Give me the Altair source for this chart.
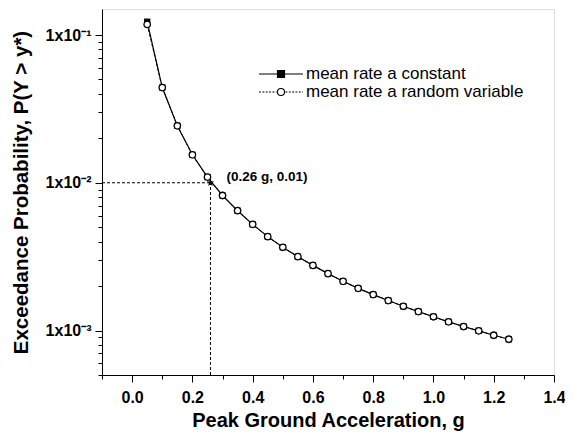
import math
import altair as alt
import pandas as pd

# ---- data ----
pga = [0.05, 0.10, 0.15, 0.20, 0.25, 0.30, 0.35, 0.40, 0.45, 0.50, 0.55, 0.60, 0.65,
       0.70, 0.75, 0.80, 0.85, 0.90, 0.95, 1.00, 1.05, 1.10, 1.15, 1.20, 1.25]
p_random = [0.118, 0.0441, 0.0243, 0.01546, 0.01093, 0.0082, 0.00647, 0.00523, 0.00432,
            0.00366, 0.00316, 0.00276, 0.002427, 0.002153, 0.00193, 0.00175, 0.001595,
            0.001459, 0.001343, 0.001239, 0.001145, 0.001064, 0.000995, 0.000929, 0.000873]
p_constant = [0.123, 0.0441, 0.0243, 0.01546, 0.01093, 0.0082, 0.00647, 0.00523, 0.00432,
              0.00366, 0.00316, 0.00276, 0.002427, 0.002153, 0.00193, 0.00175, 0.001595,
              0.001459, 0.001343, 0.001239, 0.001145, 0.001064, 0.000995, 0.000929, 0.000873]
series_names = ["mean rate a constant", "mean rate a random variable"]

ref_pga = [0.26]
ref_prob = [0.01]
ref_label = ["(0.26 g, 0.01)"]

x_domain = [-0.1, 1.4]
y_domain = [0.0005, 0.15]
x_major = [0.0, 0.2, 0.4, 0.6, 0.8, 1.0, 1.2, 1.4]
x_minor = [-0.1, 0.1, 0.3, 0.5, 0.7, 0.9, 1.1, 1.3]
y_major = [0.001, 0.01, 0.1]
y_minor = [0.0005, 0.0006, 0.0007, 0.0008, 0.0009,
           0.002, 0.003, 0.004, 0.005, 0.006, 0.007, 0.008, 0.009,
           0.02, 0.03, 0.04, 0.05, 0.06, 0.07, 0.08, 0.09]

FONT = "Liberation Sans"

df = pd.DataFrame({
    "pga": pga * 2,
    "prob": p_constant + p_random,
    "series": [series_names[0]] * len(pga) + [series_names[1]] * len(pga),
})
df_const = df[df.series == series_names[0]]
df_rand = df[df.series == series_names[1]]
df_ref = pd.DataFrame({"pga": ref_pga, "prob": ref_prob, "label": ref_label,
                       "xmin": [x_domain[0]], "ymin": [y_domain[0]]})

x_scale = alt.Scale(domain=x_domain, nice=False, zero=False)
y_scale = alt.Scale(type="log", domain=y_domain, nice=False)

common = dict(grid=False, domainColor="black", tickColor="black", labelColor="black",
              titleColor="black", tickWidth=1, domainWidth=1)

x_axis = alt.Axis(
    values=x_major, orient="bottom", title="Peak Ground Acceleration, g", format=".1f",
    tickSize=7, labelFont=FONT, labelFontSize=16, labelFontWeight="bold", labelPadding=7,
    labelFlush=False, labelOverlap=False,
    titleFont=FONT, titleFontSize=20, titleFontWeight="bold", titlePadding=5, **common)
y_axis = alt.Axis(
    values=y_major, orient="left", title="Exceedance Probability, P(Y > y*)",
    labelExpr="'1x10' + (datum.value > 0.05 ? '⁻¹' : (datum.value > 0.005 ? '⁻²' : '⁻³'))",
    tickSize=7, labelFont=FONT, labelFontSize=16, labelFontWeight="bold", labelPadding=4,
    labelFlush=False, labelOverlap=False,
    titleFont=FONT, titleFontSize=20.5, titleFontWeight="bold", titlePadding=14, **common)
x_axis_minor = alt.Axis(values=x_minor, orient="bottom", title=None, labels=False,
                        tickSize=4, domain=False, **common)
y_axis_minor = alt.Axis(values=y_minor, orient="left", title=None, labels=False,
                        tickSize=4, domain=False, **common)

X = alt.X("pga:Q", scale=x_scale, axis=x_axis)
Y = alt.Y("prob:Q", scale=y_scale, axis=y_axis)
XN = alt.X("pga:Q", axis=None)
YN = alt.Y("prob:Q", axis=None)

line_const = alt.Chart(df_const).mark_line(color="black", strokeWidth=1.2).encode(x=X, y=Y)

minor_layer = alt.Chart(df_const).mark_point(opacity=0).encode(
    x=alt.X("pga:Q", scale=x_scale, axis=x_axis_minor),
    y=alt.Y("prob:Q", scale=y_scale, axis=y_axis_minor))

line_rand = alt.Chart(df_rand).mark_line(color="black", strokeWidth=1.0,
                                         strokeDash=[3, 2]).encode(x=XN, y=YN)

h_ref = alt.Chart(df_ref).mark_rule(color="black", strokeWidth=1, strokeDash=[3, 2]).encode(
    x=alt.X("xmin:Q", axis=None), x2="pga:Q", y=YN)
v_ref = alt.Chart(df_ref).mark_rule(color="black", strokeWidth=1, strokeDash=[3, 2]).encode(
    x=XN, y=alt.Y("ymin:Q", axis=None), y2="prob:Q")

pts_const = alt.Chart(df_const).mark_point(shape="square", filled=True, color="black",
                                           size=40, opacity=1).encode(x=XN, y=YN)
pts_rand = alt.Chart(df_rand).mark_point(shape="circle", fill="white", stroke="black",
                                         strokeWidth=1.3, size=42, opacity=1,
                                         fillOpacity=1).encode(x=XN, y=YN)

# five-pointed star as a custom symbol path
star_pts = []
for k in range(10):
    r = 1.0 if k % 2 == 0 else 0.42
    a = -math.pi / 2 + k * math.pi / 5
    star_pts.append(f"{r * math.cos(a):.3f},{r * math.sin(a):.3f}")
star_path = "M" + "L".join(star_pts) + "Z"

star = alt.Chart(df_ref).mark_point(shape=star_path, filled=True, color="black", size=60,
                                    opacity=1).encode(x=XN, y=YN)
ann = alt.Chart(df_ref).mark_text(font=FONT, fontSize=13.5, fontWeight="bold", align="left",
                                  baseline="middle", dx=16, dy=-6, color="black").encode(
    x=XN, y=YN, text="label:N")

# legend symbols: line + marker drawn as custom paths
dots = []
u = -2.75
while u < -0.55:
    dots.append(f"M{u:.2f},0H{min(u + 0.25, -0.55):.2f}")
    u += 0.42
u = 0.55
while u < 2.75:
    dots.append(f"M{u:.2f},0H{min(u + 0.25, 2.75):.2f}")
    u += 0.42
const_path = "M-2.75,0H2.75M-0.44,-0.44H0.44V0.44H-0.44Z"
rand_path = "".join(dots) + "M-0.44,0A0.44,0.44 0 1,0 0.44,0A0.44,0.44 0 1,0 -0.44,0Z"

legend = alt.Legend(
    title=None, orient="none", legendX=170, legendY=56, padding=0,
    symbolSize=256, symbolStrokeWidth=1.1, symbolStrokeColor="black", symbolOpacity=1,
    labelFont=FONT, labelFontSize=17, labelColor="black", labelOffset=16, rowPadding=1,
    labelLimit=0,
)
legend_layer = alt.Chart(df).mark_point(opacity=0).encode(
    x=XN, y=YN,
    shape=alt.Shape("series:N", scale=alt.Scale(domain=series_names,
                                                range=[const_path, rand_path]), legend=legend),
    fill=alt.Fill("series:N", scale=alt.Scale(domain=series_names,
                                              range=["black", "white"]), legend=legend),
    stroke=alt.Stroke("series:N", scale=alt.Scale(domain=series_names,
                                                  range=["black", "black"]), legend=legend),
)

chart = alt.layer(
    line_const, minor_layer, line_rand, h_ref, v_ref, pts_const, pts_rand, star, ann,
    legend_layer
).resolve_axis(x="independent", y="independent").properties(
    width=452, height=366,
    autosize=alt.AutoSizeParams(type="none"),
    padding={"left": 94, "top": 1, "right": 11, "bottom": 57},
).configure_view(stroke=None).configure(font=FONT, background="white")

chart.save("out.html", embed_options={"renderer": "svg", "actions": False})
